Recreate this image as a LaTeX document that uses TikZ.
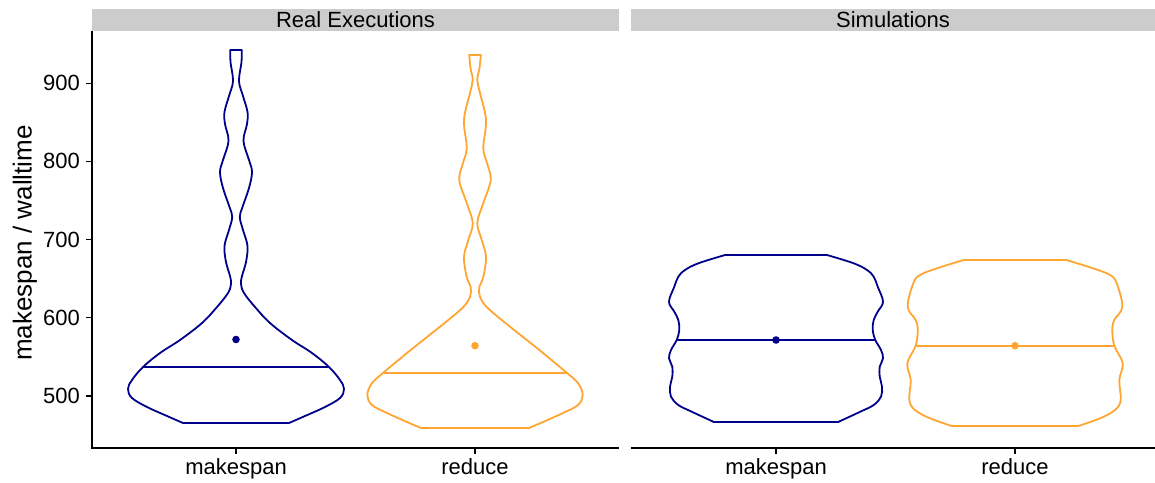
\documentclass[tikz,border=0pt]{standalone}
\usepackage{fontspec}
\setmainfont{Liberation Sans}
\usepackage{tikz}
\usetikzlibrary{positioning}

\definecolor{mkblue}{RGB}{0,0,139}
\definecolor{rdorange}{RGB}{255,165,50}
\definecolor{stripgrey}{RGB}{204,204,204}

% one violin: colour, centre x, top half width, top y, bottom half width, bottom y, right profile
\newcommand{\violin}[7]{%
  \begin{scope}[shift={(#2,0)}, color=#1, violinline]
    \draw plot[smooth, tension=0.6] coordinates {#7};
    \draw[xscale=-1] plot[smooth, tension=0.6] coordinates {#7};
    \draw (-#3,#4) -- (#3,#4);
    \draw (-#5,#6) -- (#5,#6);
  \end{scope}}

\begin{document}
\begin{tikzpicture}
[x=1pt, y=-1pt, font=\fontsize{22}{26}\selectfont,
% STYLES
% facet strips on top of each panel
strip/.style={fill=stripgrey, inner sep=0pt, minimum height=22pt},
% black axis lines and ticks
axisline/.style={line width=2pt, black},
ticklabel/.style={inner sep=0pt, anchor=east},
catlabel/.style={inner sep=0pt, anchor=base},
violinline/.style={line width=1.8pt, line cap=round, line join=round},
median/.style={line width=1.6pt},
meandot/.style={radius=3.8}]

\useasboundingbox (0,0) rectangle (1155,482);

% Draw strips
\node [strip, minimum width=527pt] (stripL) at (355.5,20) {Real Executions};
\node [strip, minimum width=524pt] (stripR) at (893,20) {Simulations};

% Draw axes
\draw [axisline] (92,31) -- (92,448) -- (619,448);
\draw [axisline] (631,448) -- (1155,448);
\foreach \v in {500,600,...,900} {
  \draw [axisline, line width=1.6pt] (86,{395.7-0.781*(\v-500)}) -- (92,{395.7-0.781*(\v-500)});
  \node [ticklabel] (ytick\v) at (80,{395.7-0.781*(\v-500)}) {\v};
}
\foreach \x/\lab/\nm in {236/makespan/mkL, 475/reduce/rdL, 776/makespan/mkR, 1015/reduce/rdR} {
  \draw [axisline, line width=1.6pt] (\x,448) -- (\x,454);
  \node [catlabel] (x\nm) at (\x,474.5) {\lab};
}
\node [inner sep=0pt, anchor=base, rotate=90, font=\fontsize{26}{30}\selectfont] (ytitle) at (31.7,243) {makespan / walltime};

%%%%%%%%%%%%%%%
% Real executions

% makespan
\violin{mkblue}{236}{5.7}{50}{53}{423}{(5.7,50) (5.5,62) (3,81) (7,96) (11.5,112) (11,124) (7.5,141) (13,160) (16,172) (13,188) (6.5,207) (3.8,217) (7,230) (11.5,246) (10,262) (6,276) (5,284) (8,293) (19,307) (34,323) (56,340) (76,353) (93,367) (104,380) (108,389) (104,398) (89,407) (69,416) (53,423)}
\draw [mkblue, median] (143,367) -- (329,367);
\fill [mkblue, meandot] (236,339.5) circle;

% reduce
\violin{rdorange}{475}{5.8}{55}{53.3}{428.3}{(5.8,55) (4.5,68) (2.3,80) (5,93) (11,120) (8.3,148) (12,163) (15.7,180) (8.3,203) (2.3,223) (6.7,240) (11,257) (8.3,277) (4.3,287) (5,297) (11.7,307) (26.7,320) (48,337) (68,353) (92,373) (103,383) (107.7,395) (103,405) (88,413) (68,422) (53.3,428.3)}
\draw [rdorange, median] (383,373) -- (567,373);
\fill [rdorange, meandot] (475,345.7) circle;

%%%%%%%%%%%%%%%
% Simulations

% makespan
\violin{mkblue}{776}{51}{255}{62.7}{421.7}{(51,255) (77.7,263.3) (91,270) (97.7,276.7) (101.7,286.7) (107,301.7) (101.7,311.7) (97.7,320) (96.7,330) (99.3,340) (105,350) (107,358.3) (103.7,366.7) (103.7,376.7) (106,386.7) (105,396.7) (97.7,405) (84.3,411.7) (62.7,421.7)}
\draw [mkblue, median] (677,340) -- (875,340);
\fill [mkblue, meandot] (776,340) circle;

% reduce
\violin{rdorange}{1015}{51.3}{260}{63.3}{426}{(51.3,260) (78,268.3) (95,275) (101.7,283.3) (107.3,306.7) (99.3,320) (97.3,330) (99.3,345.7) (107.7,363.3) (104.3,380) (105.7,400) (100,410) (85,418.3) (63.3,426)}
\draw [rdorange, median] (916,345.7) -- (1114,345.7);
\fill [rdorange, meandot] (1015,345.7) circle;

\end{tikzpicture}
\end{document}
